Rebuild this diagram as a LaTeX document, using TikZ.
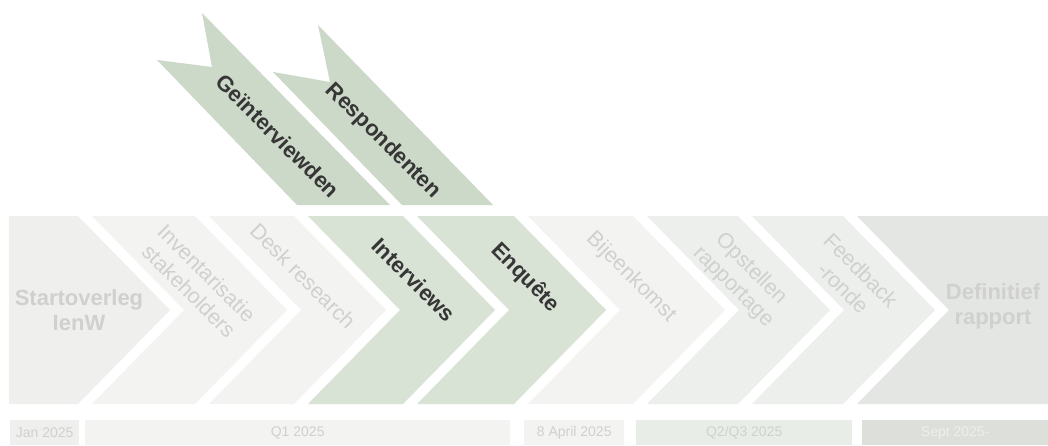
\documentclass[tikz,border=0pt]{standalone}
\usepackage{fontspec}
\setmainfont{Liberation Sans}
\definecolor{cA}{HTML}{EFEFED}
\definecolor{cB}{HTML}{F3F4F2}
\definecolor{cG}{HTML}{D8E2D5}
\definecolor{cF}{HTML}{CCD8C8}
\definecolor{cC}{HTML}{ECEFEB}
\definecolor{cD}{HTML}{E3E6E2}
\definecolor{tG}{HTML}{D0D1CF}
\definecolor{tD}{HTML}{363636}
\definecolor{bQ}{HTML}{E9EDE8}
\definecolor{bS}{HTML}{DCDFDA}
\begin{document}
\begin{tikzpicture}[x=1pt,y=-1pt,
  lbl/.style={text=tG,font=\fontsize{21.5}{25}\selectfont,align=center,inner sep=0pt},
  lblb/.style={lbl,font=\fontsize{22}{25}\selectfont\bfseries},
  dark/.style={text=tD,font=\fontsize{22}{25}\selectfont\bfseries,inner sep=0pt},
  datebox/.style={minimum height=25pt,inner sep=0pt,anchor=north west,font=\fontsize{14}{16}\selectfont}]
\path[use as bounding box,fill=white] (0,0) rectangle (1048,445);
% chevrons
\fill[cA] (9,216)--(78,216)--(170,310)--(78,404)--(9,404)--cycle;
\fill[cB] (92,216)--(195,216)--(287,310)--(195,404)--(92,404)--(184,310)--cycle;
\fill[cB] (209,216)--(294,216)--(386,310)--(294,404)--(209,404)--(301,310)--cycle;
\fill[cG] (308,216)--(403,216)--(495,310)--(403,404)--(308,404)--(400,310)--cycle;
\fill[cG] (417,216)--(514,216)--(606,310)--(514,404)--(417,404)--(509,310)--cycle;
\fill[cB] (528,216)--(633,216)--(725,310)--(633,404)--(528,404)--(620,310)--cycle;
\fill[cC] (647,216)--(738,216)--(830,310)--(738,404)--(647,404)--(739,310)--cycle;
\fill[cC] (752,216)--(843,216)--(935,310)--(843,404)--(752,404)--(844,310)--cycle;
\fill[cD] (857,216)--(1048,216)--(1048,404)--(857,404)--(949,310)--cycle;
% flags
\fill[cF] (202,13)--(390,205)--(297,205)--(157,60)--(212,67)--cycle;
\fill[cF] (318,25)--(493,205)--(402,205)--(273,72)--(330,82)--cycle;
% labels
\node[lblb] (start) at (79,310) {Startoverleg\\IenW};
\node[lbl,rotate=-45] (inv) at (198,282) {Inventarisatie\\stakeholders};
\node[lbl,rotate=-45] (desk) at (303,276) {Desk research};
\node[dark,rotate=-45] (intv) at (414,280) {Interviews};
\node[dark,rotate=-45] (enq) at (525,278) {Enquête};
\node[lbl,rotate=-45] (bij) at (631,277) {Bijeenkomst};
\node[lbl,rotate=-45] (ops) at (742,278) {Opstellen\\rapportage};
\node[lbl,rotate=-45] (feed) at (852,279) {Feedback\\-ronde};
\node[lblb] (def) at (993,306) {Definitief\\rapport};
\node[dark,rotate=-45] (geint) at (278,136) {Geïnterviewden};
\node[dark,rotate=-45] (resp) at (383,141) {Respondenten};
% date bars
\node[datebox,fill=cA,text=tG,minimum width=69pt] (jan) at (10,420) {Jan 2025};
\node[datebox,fill=cB,text=tG,minimum width=425pt] (q1) at (85,420) {Q1 2025};
\node[datebox,fill=cB,text=tG,minimum width=100pt] (apr) at (524,420) {8 April 2025};
\node[datebox,fill=bQ,text=tG,minimum width=216pt] (q23) at (636,420) {Q2/Q3 2025};
\node[datebox,fill=bS,text=cC,minimum width=186pt] (sept) at (862,420) {Sept 2025-};
\end{tikzpicture}
\end{document}
